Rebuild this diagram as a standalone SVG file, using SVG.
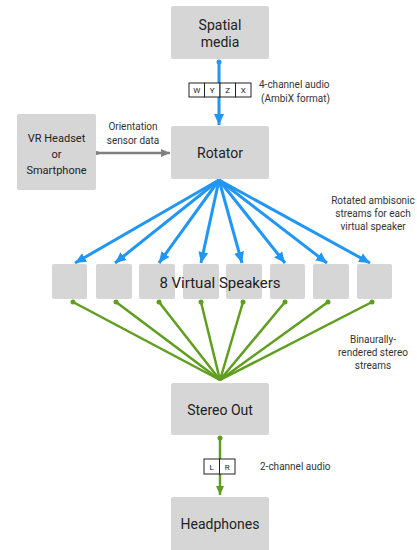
<svg xmlns="http://www.w3.org/2000/svg" width="417" height="550" viewBox="0 0 417 550">
<style>
.box{fill:#d6d6d6;rx:2;}
.t{font-family:Roboto,"Liberation Sans",sans-serif;fill:#222;text-anchor:middle;}
.big{font-size:14px;}
.sm{font-size:10px;fill:#333;}
.ch{font-family:Roboto,"Liberation Sans",sans-serif;font-size:8px;fill:#222;text-anchor:middle;}
.cell{fill:#fff;stroke:#222;stroke-width:1;}
.blue{stroke:#2196f3;stroke-width:3;fill:none;}
.green{stroke:#5f9e1e;stroke-width:2.5;fill:none;}
</style>
<defs>
<marker id="ab" markerUnits="userSpaceOnUse" markerWidth="12" markerHeight="12" viewBox="0 0 12 12" refX="11" refY="6" orient="auto"><path d="M0,1 L11,6 L0,11 z" fill="#2196f3"/></marker>
<marker id="ag" markerUnits="userSpaceOnUse" markerWidth="10" markerHeight="10" viewBox="0 0 10 10" refX="9" refY="5" orient="auto"><path d="M0,1 L9,5 L0,9 z" fill="#5f9e1e"/></marker>
<marker id="ay" markerUnits="userSpaceOnUse" markerWidth="10" markerHeight="10" viewBox="0 0 10 10" refX="9" refY="5" orient="auto"><path d="M0,1 L9,5 L0,9 z" fill="#808080"/></marker>
</defs>

<g id="connectors">
<line class="blue" x1="219" y1="62" x2="219" y2="125" marker-end="url(#ab)"/>
<circle cx="219" cy="62" r="2.5" fill="#2196f3"/>
<line x1="97" y1="153" x2="170" y2="153" stroke="#808080" stroke-width="2.5" marker-end="url(#ay)"/>
<circle cx="97" cy="153" r="2" fill="#808080"/>
<g class="blue">
<line x1="219" y1="180" x2="75" y2="263" marker-end="url(#ab)"/>
<line x1="219" y1="180" x2="115" y2="263" marker-end="url(#ab)"/>
<line x1="219" y1="180" x2="159" y2="263" marker-end="url(#ab)"/>
<line x1="219" y1="180" x2="201" y2="263" marker-end="url(#ab)"/>
<line x1="219" y1="180" x2="242" y2="263" marker-end="url(#ab)"/>
<line x1="219" y1="180" x2="285" y2="263" marker-end="url(#ab)"/>
<line x1="219" y1="180" x2="327" y2="263" marker-end="url(#ab)"/>
<line x1="219" y1="180" x2="370" y2="263" marker-end="url(#ab)"/>
</g>
<g class="green">
<line x1="73" y1="302" x2="220" y2="380"/>
<line x1="116" y1="302" x2="220" y2="380"/>
<line x1="159" y1="302" x2="220" y2="380"/>
<line x1="201" y1="302" x2="220" y2="380"/>
<line x1="243" y1="302" x2="220" y2="380"/>
<line x1="285" y1="302" x2="220" y2="380"/>
<line x1="328" y1="302" x2="220" y2="380"/>
<line x1="372" y1="302" x2="220" y2="380"/>
</g>
<g fill="#5f9e1e">
<circle cx="73" cy="302" r="2.5"/><circle cx="116" cy="302" r="2.5"/><circle cx="159" cy="302" r="2.5"/><circle cx="201" cy="302" r="2.5"/>
<circle cx="243" cy="302" r="2.5"/><circle cx="285" cy="302" r="2.5"/><circle cx="328" cy="302" r="2.5"/><circle cx="372" cy="302" r="2.5"/>
<circle cx="220" cy="438" r="2.5"/>
</g>
<line class="green" x1="220" y1="438" x2="220" y2="495" marker-end="url(#ag)"/>
</g>

<g id="spatial-media">
<rect class="box" x="171" y="6" width="98" height="53"/>
<text class="t big" x="220" y="30">Spatial</text>
<text class="t big" x="220" y="47">media</text>
</g>

<g id="channels-4">
<rect class="cell" x="189" y="83" width="15.5" height="14"/>
<rect class="cell" x="204.5" y="83" width="15.5" height="14"/>
<rect class="cell" x="220" y="83" width="15.5" height="14"/>
<rect class="cell" x="235.5" y="83" width="15.5" height="14"/>
<text class="ch" x="196.7" y="93">W</text>
<text class="ch" x="212.2" y="93">Y</text>
<text class="ch" x="227.7" y="93">Z</text>
<text class="ch" x="243.2" y="93">X</text>
<text class="t sm" x="259" y="88" text-anchor="start" style="text-anchor:start">4-channel audio</text>
<text class="t sm" x="261" y="102" style="text-anchor:start">(AmbiX format)</text>
</g>

<g id="vr-headset">
<rect class="box" x="17" y="114" width="79" height="76"/>
<text class="t" font-size="11" x="56.5" y="142">VR Headset</text>
<text class="t" font-size="11" x="56.5" y="158">or</text>
<text class="t" font-size="11" x="56.5" y="174">Smartphone</text>
<text class="t sm" x="133" y="130">Orientation</text>
<text class="t sm" x="133" y="144">sensor data</text>
</g>

<g id="rotator">
<rect class="box" x="171" y="126" width="98" height="53"/>
<text class="t big" x="220" y="158">Rotator</text>
</g>

<text class="t sm" x="373" y="204">Rotated ambisonic</text>
<text class="t sm" x="373" y="217">streams for each</text>
<text class="t sm" x="373" y="230">virtual speaker</text>

<g id="speakers">
<rect class="box" x="52" y="264" width="35" height="35"/>
<rect class="box" x="96" y="264" width="36" height="35"/>
<rect class="box" x="139" y="264" width="36" height="35"/>
<rect class="box" x="183" y="264" width="36" height="35"/>
<rect class="box" x="226" y="264" width="36" height="35"/>
<rect class="box" x="270" y="264" width="35" height="35"/>
<rect class="box" x="313" y="264" width="36" height="35"/>
<rect class="box" x="357" y="264" width="35" height="35"/>
<text class="t" font-size="15" x="220" y="288">8 Virtual Speakers</text>
</g>

<text class="t sm" x="373" y="343">Binaurally-</text>
<text class="t sm" x="373" y="356">rendered stereo</text>
<text class="t sm" x="373" y="369">streams</text>

<g id="stereo-out">
<rect class="box" x="171" y="383" width="98" height="52"/>
<text class="t big" x="220" y="415">Stereo Out</text>
</g>

<g id="channels-2">
<rect class="cell" x="204" y="459" width="15.5" height="15"/>
<rect class="cell" x="219.5" y="459" width="15.5" height="15"/>
<text class="ch" x="211.7" y="470">L</text>
<text class="ch" x="227.2" y="470">R</text>
<text class="t sm" x="260" y="470" style="text-anchor:start">2-channel audio</text>
</g>

<g id="headphones">
<rect class="box" x="171" y="497" width="98" height="60"/>
<text class="t big" x="220" y="529">Headphones</text>
</g>
</svg>
